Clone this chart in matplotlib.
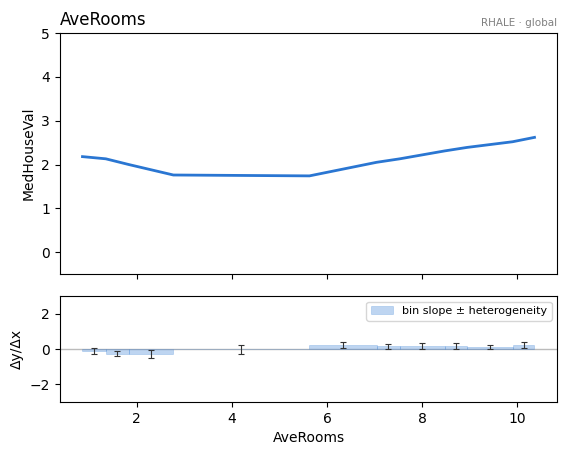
import matplotlib.pyplot as plt
import numpy as np

# bin edges along AveRooms and the accumulated effect at each edge
bin_edges = [0.86, 1.35, 1.83, 2.77, 5.63, 7.04, 7.53, 8.47, 8.94, 9.90, 10.36]
effect = [2.18, 2.13, 2.00, 1.76, 1.74, 2.05, 2.13, 2.31, 2.39, 2.52, 2.62]

# per-bin slope and heterogeneity
bin_slope = [-0.13, -0.25, -0.30, -0.01, 0.23, 0.17, 0.17, 0.17, 0.11, 0.23]
bin_std = [0.17, 0.16, 0.23, 0.26, 0.16, 0.14, 0.18, 0.15, 0.11, 0.15]

feature = "AveRooms"
target = "MedHouseVal"
line_color = "#2a76d2"

edges = np.array(bin_edges)
centers = (edges[:-1] + edges[1:]) / 2
widths = np.diff(edges)

fig = plt.figure(figsize=(5.65, 4.55), dpi=100)
ax = fig.add_axes([0.106, 0.398, 0.880, 0.529])
ax2 = fig.add_axes([0.106, 0.1165, 0.880, 0.2325], sharex=ax)

ax.plot(edges, effect, color=line_color, lw=2)
ax.set_ylim(-0.5, 5)
ax.set_ylabel(target)
ax.set_title(feature, loc="left", fontsize=12)
ax.text(1.0, 1.02, "RHALE · global", transform=ax.transAxes,
        ha="right", va="bottom", fontsize=7.5, color="gray")
ax.tick_params(labelbottom=False)

ax2.axhline(0, color="#bbbbbb", lw=1, zorder=0)
ax2.bar(centers, bin_slope, width=widths, color=line_color, alpha=0.3,
        edgecolor=line_color, linewidth=0.5, label="bin slope ± heterogeneity")
ax2.errorbar(centers, bin_slope, yerr=bin_std, fmt="none", ecolor="#333333",
             elinewidth=0.8, capsize=2, capthick=0.8)
ax2.set_ylim(-3, 3)
ax2.set_ylabel("Δy/Δx")
ax2.set_xlabel(feature)
ax2.legend(loc="upper right", fontsize=8)

fig.savefig("out.png", dpi=100)
